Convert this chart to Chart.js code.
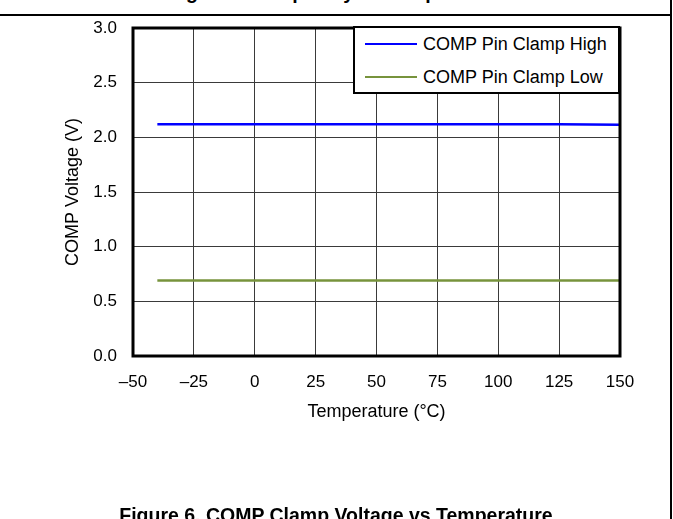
<!DOCTYPE html>
<html>
<head>
<meta charset="utf-8">
<script src="https://cdn.jsdelivr.net/npm/chart.js@4/dist/chart.umd.min.js"></script>
<style>
  html, body { margin: 0; padding: 0; background: #fff; }
  #wrap { position: relative; width: 673px; height: 519px; overflow: hidden; font-family: "Liberation Sans", Arial, sans-serif; }
  #chartBox { position: absolute; left: 0; top: 0; width: 673px; height: 519px; }
  .cap { position: absolute; left: 0; width: 672px; text-align: center; font-weight: bold; font-size: 19.5px; line-height: 19px; color: #000; white-space: nowrap; }
  #hline { position: absolute; left: 0; top: 14px; width: 672px; height: 2px; background: #000; }
  #vline { position: absolute; left: 670px; top: 0; width: 2px; height: 519px; background: #000; }
  #legend { position: absolute; left: 353px; top: 26px; width: 267px; height: 68px; box-sizing: border-box; border: 2.5px solid #000; background: #fff; }
  .item { position: absolute; left: 10px; height: 20px; font-size: 18px; line-height: 20px; color: #000; white-space: nowrap; }
  .item .sw { position: absolute; left: 0; top: 9px; width: 52px; height: 2.5px; }
  .item .tx { position: absolute; left: 58px; top: 0; }
</style>
</head>
<body>
<div id="wrap">
  <div class="cap" style="top:-17px;">Figure 5. Frequency vs Temperature</div>
  <div id="hline"></div>
  <div id="vline"></div>
  <div id="chartBox"><canvas id="c" width="673" height="519"></canvas></div>
  <div id="legend"></div>
  <div class="cap" style="top:506px;">Figure 6. COMP Clamp Voltage vs Temperature</div>
</div>
<script>
// ---- data ----
const temperatures = [-40, -25, 0, 25, 50, 75, 100, 125, 150];
const clampHigh = [2.12, 2.12, 2.12, 2.12, 2.12, 2.12, 2.12, 2.12, 2.115];
const clampLow  = [0.69, 0.69, 0.69, 0.69, 0.69, 0.69, 0.69, 0.69, 0.69];
const seriesNames = ['COMP Pin Clamp High', 'COMP Pin Clamp Low'];
const seriesColors = ['#0000FF', '#77933C'];
const xTickLabels = ['\u201350', '\u201325', '0', '25', '50', '75', '100', '125', '150'];
const yTickLabels = ['0.0', '0.5', '1.0', '1.5', '2.0', '2.5', '3.0'];

const FONT = '"Liberation Sans", Arial, sans-serif';

const toPoints = vals => temperatures.map((t, i) => ({ x: t, y: vals[i] }));

const frame = {
  id: 'frame',
  afterDatasetsDraw(chart) {
    const { ctx, chartArea: a } = chart;
    ctx.save();
    ctx.strokeStyle = '#000';
    ctx.lineWidth = 3;
    ctx.strokeRect(a.left, a.top, a.right - a.left, a.bottom - a.top);
    ctx.restore();
  }
};

const chart = new Chart(document.getElementById('c'), {
  type: 'line',
  data: {
    datasets: [
      { label: seriesNames[0], data: toPoints(clampHigh), borderColor: seriesColors[0], backgroundColor: seriesColors[0], borderWidth: 2.5, pointRadius: 0, tension: 0.4, fill: false },
      { label: seriesNames[1], data: toPoints(clampLow), borderColor: seriesColors[1], backgroundColor: seriesColors[1], borderWidth: 2.5, pointRadius: 0, tension: 0.4, fill: false }
    ]
  },
  options: {
    responsive: false,
    animation: false,
    events: [],
    layout: { padding: { left: 50, right: 53, top: 28, bottom: 96 } },
    plugins: { legend: { display: false }, tooltip: { enabled: false } },
    scales: {
      x: {
        type: 'linear', min: -50, max: 150,
        afterFit: s => { s.height = 67; },
        ticks: { stepSize: 25, color: '#000', padding: 16, font: { family: FONT, size: 17 },
                 callback: v => xTickLabels[Math.round((v + 50) / 25)] },
        grid: { color: '#3a3a3a', lineWidth: 1, drawTicks: false },
        border: { display: false },
        title: { display: true, text: 'Temperature (°C)', color: '#000', font: { family: FONT, size: 18 }, padding: { top: 0, bottom: 0 } }
      },
      y: {
        min: 0, max: 3,
        afterFit: s => { s.width = 83; },
        ticks: { stepSize: 0.5, color: '#000', padding: 16, font: { family: FONT, size: 17 },
                 callback: v => yTickLabels[Math.round(v / 0.5)] },
        grid: { color: '#3a3a3a', lineWidth: 1, drawTicks: false },
        border: { display: false },
        title: { display: true, text: 'COMP Voltage (V)', color: '#000', font: { family: FONT, size: 18 }, padding: { top: 12, bottom: 0 } }
      }
    }
  },
  plugins: [frame]
});

// legend built from the chart's datasets
const leg = document.getElementById('legend');
chart.data.datasets.forEach((ds, i) => {
  const it = document.createElement('div');
  it.className = 'item';
  it.style.top = (i === 0 ? 5.5 : 38.5) + 'px';
  it.innerHTML = '<span class="sw" style="background:' + ds.borderColor + '"></span><span class="tx"></span>';
  it.querySelector('.tx').textContent = ds.label;
  leg.appendChild(it);
});
</script>
</body>
</html>
